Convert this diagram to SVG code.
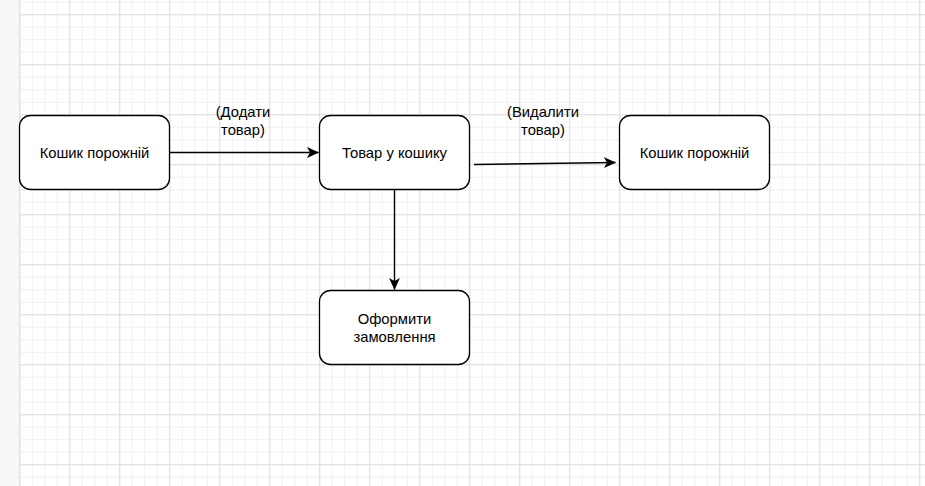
<svg xmlns="http://www.w3.org/2000/svg" width="925" height="486" viewBox="0 0 925 486">
<defs>
<pattern id="minor" x="19.3" y="14.3" width="12.5" height="12.5" patternUnits="userSpaceOnUse">
<path d="M0 0.5H12.5M0.5 0V12.5" stroke="#f0f0f0" stroke-width="1" fill="none"/>
</pattern>
<pattern id="major" x="19.3" y="14.3" width="50" height="50" patternUnits="userSpaceOnUse">
<path d="M0 0.5H50M0.5 0V50" stroke="#dfdfdf" stroke-width="1" fill="none"/>
</pattern>
<marker id="arr" viewBox="0 0 12 12" refX="11.5" refY="6" markerWidth="12" markerHeight="12" markerUnits="userSpaceOnUse" orient="auto">
<path d="M0 0.6L12 6L0 11.4L3 6Z" fill="#000"/>
</marker>
<style>
.node rect{fill:#fff;stroke:#000;stroke-width:1.3}
.t{font-family:"Liberation Sans",Arial,sans-serif;font-size:14.8px;fill:#000;text-anchor:middle}
.edge{stroke:#000;stroke-width:1.4;fill:none}
</style>
</defs>
<rect width="925" height="486" fill="#f7f7f7"/>
<rect x="19.3" y="0" width="906" height="486" fill="#fff"/>
<rect x="19.3" y="0" width="906" height="486" fill="url(#minor)"/>
<rect x="19.3" y="0" width="906" height="486" fill="url(#major)"/>
<line x1="19.8" y1="0" x2="19.8" y2="486" stroke="#dfdfdf"/>
<g id="connectors">
<path class="edge" d="M169.5 152.5H318.5" marker-end="url(#arr)"/>
<path class="edge" d="M474 164.5L615.5 162.5" marker-end="url(#arr)"/>
<path class="edge" d="M394.5 189.5V289.5" marker-end="url(#arr)"/>
<text class="t" x="243" y="117">(Додати</text>
<text class="t" x="243" y="135">товар)</text>
<text class="t" x="543" y="117">(Видалити</text>
<text class="t" x="543" y="135">товар)</text>
</g>
<g id="node-empty1" class="node">
<rect x="19.5" y="115.5" width="150" height="74" rx="11"/>
<text class="t" x="94.5" y="157.5">Кошик порожній</text>
</g>
<g id="node-cart" class="node">
<rect x="319.5" y="115.5" width="150" height="74" rx="11"/>
<text class="t" x="394.5" y="157.5">Товар у кошику</text>
</g>
<g id="node-empty2" class="node">
<rect x="619.5" y="115.5" width="150" height="74" rx="11"/>
<text class="t" x="694.5" y="157.5">Кошик порожній</text>
</g>
<g id="node-order" class="node">
<rect x="319.5" y="290.5" width="150" height="74" rx="11"/>
<text class="t" x="394.5" y="323.5">Оформити</text>
<text class="t" x="394.5" y="341.5">замовлення</text>
</g>
</svg>
